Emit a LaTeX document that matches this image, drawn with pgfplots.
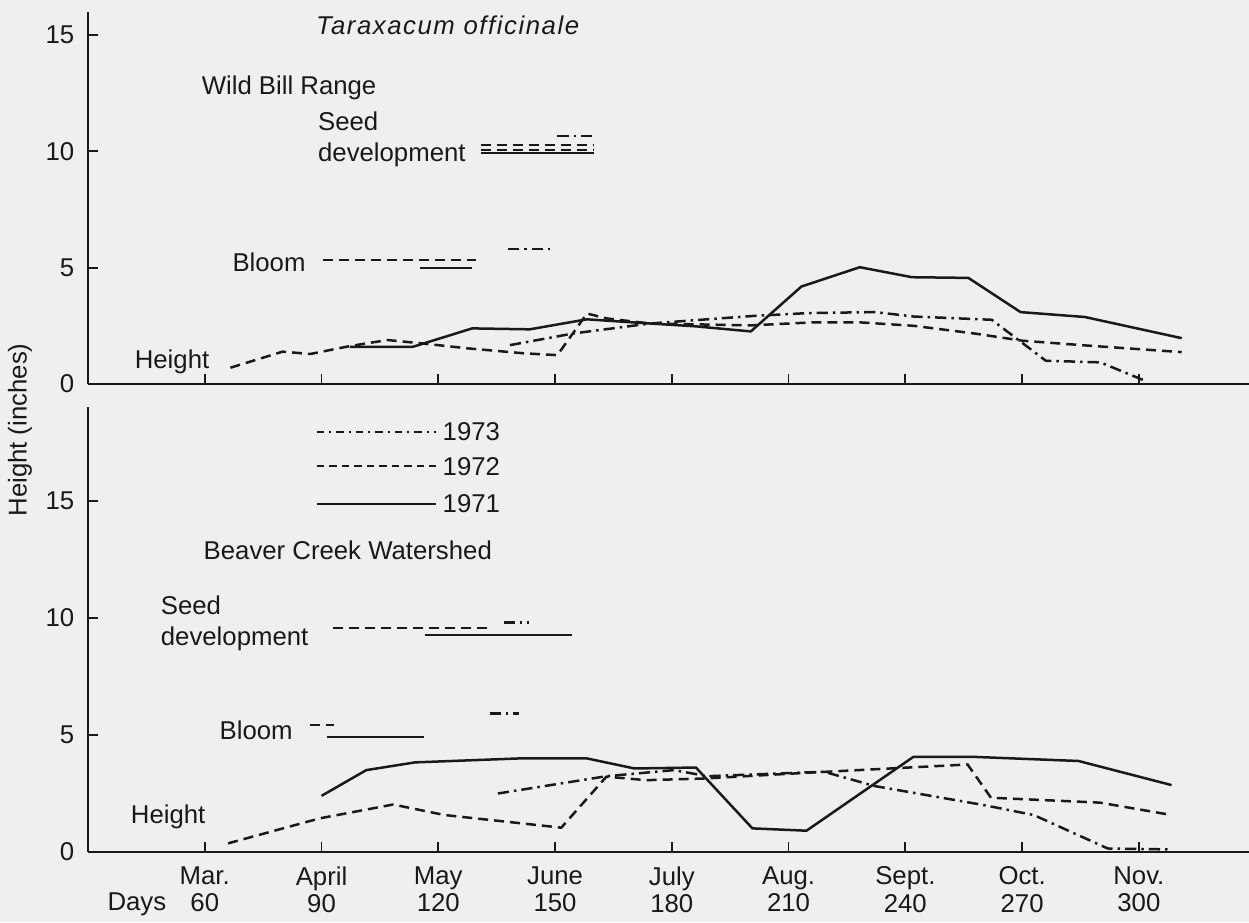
\documentclass[border=0pt]{standalone}
\usepackage{fontspec}
\setmainfont{Liberation Sans}
\usepackage{pgfplots}
\pgfplotsset{compat=1.18}
\definecolor{bgc}{RGB}{239,239,238}
\definecolor{ink}{RGB}{25,25,25}
\newcommand{\lbl}{\fontsize{10.3}{12.4}\selectfont}
\newcommand{\tlbl}{\fontsize{10.3}{11}\selectfont}
\begin{document}
\begin{tikzpicture}[x=1pt,y=1pt]
\fill[bgc] (-35.2pt,0pt) rectangle (464.4pt,-368.8pt);
\path[use as bounding box] (-35.2pt,0pt) rectangle (464.4pt,-368.8pt);
\pgfplotsset{
  panel/.style={
    scale only axis, width=464.4pt, xmin=30, xmax=328.3, ymin=0,
    axis x line*=bottom, axis y line*=left, axis line style={-, ink, line width=0.8pt},
    tick align=inside, major tick length=4pt, tick style={ink, line width=0.7pt},
    xtick={60,90,...,300}, ytick={0,5,10,15}, minor tick num=0,
    /pgf/number format/assume math mode=true,
    ticklabel style={font=\lbl, text=ink},
    yticklabel style={xshift=-2pt},
    clip=false,
  },
  s71/.style={ink, line width=1pt, solid},
  s72/.style={ink, line width=1pt, dash pattern=on 4pt off 2.4pt},
  s73/.style={ink, line width=1pt, dash pattern=on 4.5pt off 2pt on 1pt off 2pt},
}
% ---------------- top panel: Wild Bill Range ----------------
\begin{axis}[panel, at={(0pt,-153.6pt)}, anchor=south west, height=148.9pt, ymax=16,
  xticklabels={}]
\addplot[s72] coordinates {(66.6,0.70) (80.0,1.39) (87.1,1.29) (97.3,1.63) (106.9,1.89) (115.5,1.75) (127.7,1.53) (141.9,1.32) (150.6,1.24) (158.2,3.03) (163.2,2.82) (174.4,2.60) (200.3,2.52) (216.3,2.65) (228.3,2.65) (242.2,2.50) (258.2,2.16) (270.1,1.86) (286.1,1.66) (311.0,1.37)};
\addplot[s71] coordinates {(97.3,1.60) (113.5,1.60) (128.7,2.39) (143.5,2.35) (158.2,2.78) (174.4,2.60) (186.0,2.48) (200.3,2.26) (213.3,4.19) (228.3,5.02) (241.7,4.59) (256.2,4.56) (269.6,3.09) (286.1,2.88) (311.0,1.97)};
\addplot[s73] coordinates {(138.4,1.67) (154.6,2.17) (174.4,2.60) (201.3,2.93) (215.3,3.05) (232.2,3.09) (242.2,2.90) (262.2,2.76) (276.1,1.00) (290.1,0.93) (302.0,0.11)};
% seed development
\addplot[s73, line width=0.9pt] coordinates {(150.6,10.67) (160.0,10.67)};
\addplot[s72, line width=0.9pt] coordinates {(130.9,10.26) (160.0,10.26)};
\addplot[s72, line width=0.9pt] coordinates {(130.9,10.07) (160.0,10.07)};
\addplot[s71, line width=0.9pt] coordinates {(130.9,9.92) (160.0,9.92)};
% bloom
\addplot[s72, line width=0.9pt] coordinates {(90.4,5.33) (129.7,5.33)};
\addplot[s71, line width=0.9pt] coordinates {(115.3,4.97) (128.7,4.97)};
\addplot[s73, line width=0.9pt] coordinates {(137.9,5.80) (149.8,5.80)};
\node[font=\lbl\itshape, text=ink] at (axis cs:122.4,15.4) {\addfontfeatures{LetterSpace=6}Taraxacum officinale};
\node[font=\lbl, text=ink, anchor=west, inner sep=0pt] at (axis cs:59.1,12.73) {Wild Bill Range};
\node[font=\lbl, text=ink, anchor=west, inner sep=0pt, align=left] at (axis cs:89.0,10.5) {Seed\\development};
\node[font=\lbl, text=ink, anchor=west, inner sep=0pt] at (axis cs:67.0,5.25) {Bloom};
\node[font=\lbl, text=ink, anchor=west, inner sep=0pt] at (axis cs:41.9,0.96) {Height};
\end{axis}
% ---------------- bottom panel: Beaver Creek Watershed ----------------
\begin{axis}[panel, at={(0pt,-340.7pt)}, anchor=south west, height=177.8pt, ymax=19,
  xticklabels={{Mar.\\60}, {April\\90}, {May\\120}, {June\\150}, {July\\180}, {Aug.\\210}, {Sept.\\240}, {Oct.\\270}, {Nov.\\300}},
  xticklabel style={align=center, font=\tlbl, yshift=-2.4pt}]
\addplot[s71] coordinates {(90.0,2.39) (101.5,3.49) (114.0,3.82) (140.9,3.99) (158.2,3.99) (170.4,3.56) (186.2,3.60) (200.7,1.00) (214.6,0.90) (242.1,4.06) (257.0,4.06) (284.5,3.88) (308.4,2.85)};
\addplot[s72] coordinates {(66.0,0.36) (79.0,0.95) (89.6,1.43) (108.4,2.02) (121.6,1.57) (151.6,1.03) (163.2,3.21) (173.4,3.06) (188.2,3.13) (215.1,3.38) (236.1,3.56) (256.0,3.73) (262.0,2.31) (290.0,2.10) (308.4,1.57)};
\addplot[s73] coordinates {(135.3,2.49) (163.2,3.23) (180.5,3.49) (189.2,3.23) (219.1,3.42) (232.1,2.81) (260.0,2.00) (273.0,1.57) (292.0,0.14) (308.0,0.10)};
% legend
\addplot[s73, line width=0.8pt, dash pattern=on 3pt off 2pt on 0.8pt off 2pt] coordinates {(88.8,17.95) (119.3,17.95)};
\addplot[s72, line width=0.8pt, dash pattern=on 3pt off 2pt] coordinates {(88.8,16.48) (119.3,16.48)};
\addplot[s71, line width=0.8pt] coordinates {(88.8,14.86) (119.3,14.86)};
\node[font=\lbl, text=ink, anchor=west, inner sep=0pt] at (axis cs:121.0,17.95) {1973};
\node[font=\lbl, text=ink, anchor=west, inner sep=0pt] at (axis cs:121.0,16.48) {1972};
\node[font=\lbl, text=ink, anchor=west, inner sep=0pt] at (axis cs:121.0,14.86) {1971};
% seed development
\addplot[s72, line width=0.9pt] coordinates {(92.9,9.55) (132.7,9.55)};
\addplot[s71, line width=0.9pt] coordinates {(116.7,9.26) (154.3,9.26)};
\addplot[s73, line width=0.9pt] coordinates {(136.8,9.80) (143.3,9.80)};
% bloom
\addplot[s72, line width=0.9pt] coordinates {(87.0,5.41) (93.1,5.41)};
\addplot[s71, line width=0.9pt] coordinates {(91.3,4.91) (116.2,4.91)};
\addplot[s73, line width=0.9pt] coordinates {(133.2,5.91) (140.8,5.91)};
\node[font=\lbl, text=ink, anchor=west, inner sep=0pt] at (axis cs:59.6,12.89) {Beaver Creek Watershed};
\node[font=\lbl, text=ink, anchor=west, inner sep=0pt, align=left] at (axis cs:48.6,9.76) {Seed\\development};
\node[font=\lbl, text=ink, anchor=west, inner sep=0pt] at (axis cs:63.7,5.2) {Bloom};
\node[font=\lbl, text=ink, anchor=west, inner sep=0pt] at (axis cs:40.9,1.5) {Height};
\node[font=\lbl, text=ink, anchor=west, inner sep=0pt] at (axis cs:34.9,-2.24) {Days};
\end{axis}
\node[font=\lbl, text=ink, rotate=90] at (-27.2pt,-172pt) {Height (inches)};
\end{tikzpicture}
\end{document}
